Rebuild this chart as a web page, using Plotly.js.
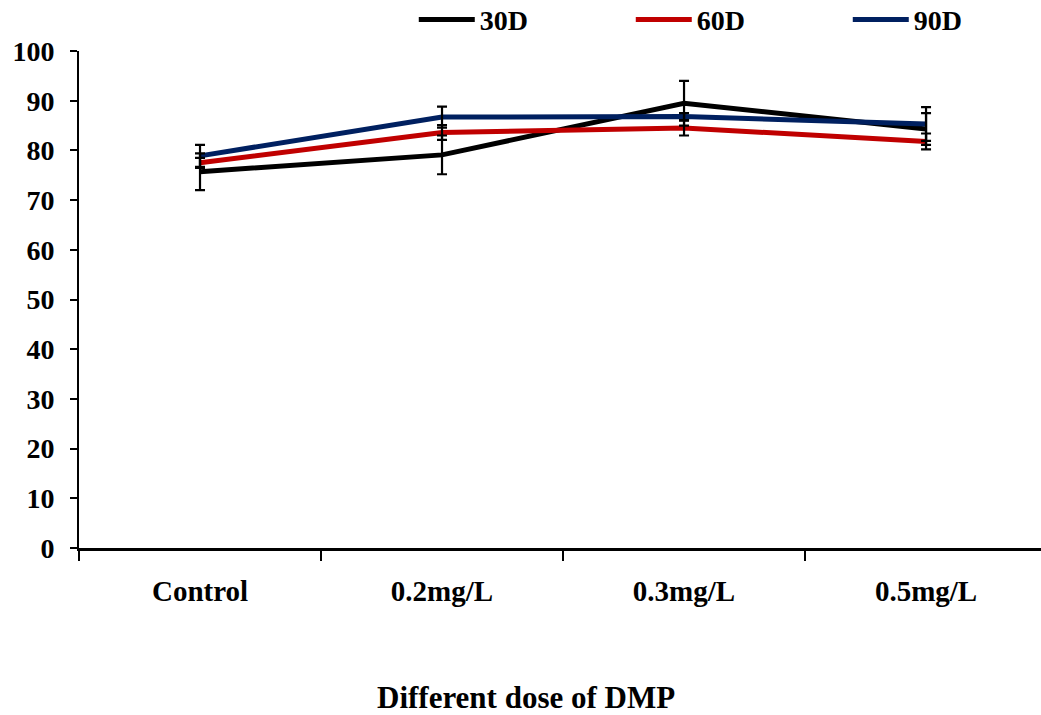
<!DOCTYPE html>
<html>
<head>
<meta charset="utf-8">
<script src="https://cdn.plot.ly/plotly-3.0.1.min.js"></script>
<style>html,body{margin:0;padding:0;background:#fff;}#chart{width:1041px;height:715px;}</style>
</head>
<body>
<div id="chart"></div>
<script>
const categories = ["Control", "0.2mg/L", "0.3mg/L", "0.5mg/L"];
const seriesNames = ["30D", "60D", "90D"];
const values30D = [75.7, 79.1, 89.5, 84.3];
const values60D = [77.5, 83.6, 84.5, 81.8];
const values90D = [78.9, 86.7, 86.8, 85.3];
const err30D = [3.7, 3.9, 4.5, 3.2];
const err60D = [1.0, 1.5, 1.5, 1.6];
const err90D = [2.2, 2.1, 0.7, 3.4];
const yTicks = [0, 10, 20, 30, 40, 50, 60, 70, 80, 90, 100];
const xTitle = "Different dose of DMP";

const colors = ["#000000", "#C00000", "#002060"];
const vals = [values30D, values60D, values90D];
const errs = [err30D, err60D, err90D];
const font = "'Liberation Serif', 'Times New Roman', serif";

const traces = [];
for (let i = 0; i < 3; i++) {
  traces.push({
    x: categories, y: vals[i], name: seriesNames[i], type: "scatter", mode: "lines",
    line: {color: colors[i], width: 5}, showlegend: true
  });
}
for (let i = 0; i < 3; i++) {
  traces.push({
    x: categories, y: vals[i], type: "scatter", mode: "markers",
    marker: {opacity: 0, size: 1}, showlegend: false, hoverinfo: "skip",
    error_y: {type: "data", array: errs[i], visible: true, color: "#000000", thickness: 2.2, width: 5}
  });
}

const layout = {
  width: 1041, height: 715,
  margin: {l: 79, r: 0, t: 51, b: 167, autoexpand: false},
  paper_bgcolor: "#ffffff", plot_bgcolor: "#ffffff",
  font: {family: font, size: 28, color: "#000000", weight: "bold"},
  showlegend: true,
  legend: {
    orientation: "h", x: 0.348, xanchor: "left", y: 1.063, yanchor: "middle",
    font: {family: font, size: 28, color: "#000", weight: "bold"},
    itemwidth: 56, entrywidth: 146, entrywidthmode: "pixels", bgcolor: "rgba(0,0,0,0)",
    tracegroupgap: 0
  },
  xaxis: {
    type: "category", range: [-0.5, 3.475], tickson: "boundaries", automargin: false,
    ticks: "outside", ticklen: 10, tickwidth: 2, tickcolor: "#000",
    showline: true, linecolor: "#000", linewidth: 3, showgrid: false, zeroline: false,
    tickfont: {family: font, size: 29, color: "#000", weight: "bold"},
    ticklabelstandoff: 15
  },
  yaxis: {
    range: [0, 100], tickvals: yTicks, ticktext: yTicks.map(String), automargin: false,
    ticks: "outside", ticklen: 7, tickwidth: 2, tickcolor: "#000",
    showline: true, linecolor: "#000", linewidth: 2, showgrid: false, zeroline: false,
    tickfont: {family: font, size: 28, color: "#000", weight: "bold"},
    ticklabelstandoff: 10
  },
  annotations: [{
    text: xTitle, xref: "paper", yref: "paper", x: 0.465, y: -0.30,
    xanchor: "center", yanchor: "middle", showarrow: false,
    font: {family: font, size: 31, color: "#000", weight: "bold"}
  }]
};

Plotly.newPlot("chart", traces, layout, {displayModeBar: false, staticPlot: true});
</script>
</body>
</html>
